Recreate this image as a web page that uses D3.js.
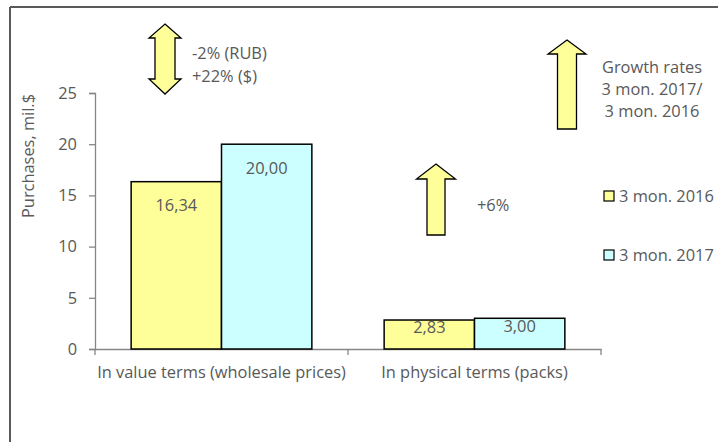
<!DOCTYPE html>
<html>
<head>
<meta charset="utf-8">
<script src="https://cdn.jsdelivr.net/npm/d3@7"></script>
<style>
  html, body { margin: 0; padding: 0; background: #fff; }
  text { font-family: "Open Sans", sans-serif; fill: #595959; }
</style>
</head>
<body>
<svg id="chart" width="718" height="442"></svg>
<script>
// data
var categories = ["In value terms (wholesale prices)", "In physical terms (packs)"];
var seriesNames = ["3 mon. 2016", "3 mon. 2017"];
var values2016 = [16.34, 2.83];
var values2017 = [20.00, 3.00];
var yTicks = [0, 5, 10, 15, 20, 25];
var colors = ["#FFFF99", "#CCFFFF"];

var svg = d3.select("#chart");
var fontSize = 16.4;
var fontFam = "'Open Sans', sans-serif";

// outer frame (only left and top edges visible)
svg.append("line").attr("x1", 10).attr("y1", 7).attr("x2", 10).attr("y2", 442)
  .attr("stroke", "#595959").attr("stroke-width", 2);
svg.append("line").attr("x1", 10).attr("y1", 7).attr("x2", 718).attr("y2", 7)
  .attr("stroke", "#595959").attr("stroke-width", 2);

var plot = { left: 95, right: 601, top: 93, bottom: 349 };

var x = d3.scaleBand().domain(categories).range([plot.left, plot.right]);
var xInner = d3.scaleBand().domain(seriesNames)
  .range([0, x.bandwidth()]).paddingOuter(0.4).paddingInner(0);
var y = d3.scaleLinear().domain([0, 25]).range([plot.bottom, plot.top]);

// y axis
var yAxis = svg.append("g").attr("transform", "translate(" + plot.left + ",0)")
  .call(d3.axisLeft(y).tickValues(yTicks).tickSize(6).tickPadding(12));
yAxis.select(".domain").attr("stroke", "#868686").attr("stroke-width", 1.3);
yAxis.selectAll(".tick line").attr("stroke", "#868686").attr("stroke-width", 1.3);
yAxis.selectAll(".tick text").style("font-size", fontSize + "px")
  .style("font-family", fontFam).attr("fill", "#595959");

// x axis
var xAxis = svg.append("g").attr("transform", "translate(0," + plot.bottom + ")")
  .call(d3.axisBottom(x).tickSize(0).tickPadding(17));
xAxis.select(".domain").attr("stroke", "#868686").attr("stroke-width", 1.3);
xAxis.selectAll(".tick text").style("font-size", fontSize + "px")
  .style("font-family", fontFam).attr("fill", "#595959");
// boundary tick marks between categories
var edges = [plot.left].concat(categories.map(function (c) { return x(c) + x.bandwidth(); }));
xAxis.selectAll(".edge").data(edges).enter().append("line")
  .attr("x1", function (d) { return d; }).attr("x2", function (d) { return d; })
  .attr("y1", 0).attr("y2", 6)
  .attr("stroke", "#868686").attr("stroke-width", 1.3);

// bars
var rows = categories.map(function (c, i) {
  return { cat: c, vals: [values2016[i], values2017[i]] };
});
var groups = svg.selectAll(".grp").data(rows).enter().append("g")
  .attr("transform", function (d) { return "translate(" + x(d.cat) + ",0)"; });

var bars = groups.selectAll("rect").data(function (d) {
  return d.vals.map(function (v, j) { return { s: seriesNames[j], v: v, j: j }; });
}).enter();

bars.append("rect")
  .attr("x", function (d) { return xInner(d.s); })
  .attr("y", function (d) { return y(d.v); })
  .attr("width", xInner.bandwidth())
  .attr("height", function (d) { return y(0) - y(d.v); })
  .attr("fill", function (d) { return colors[d.j]; })
  .attr("stroke", "#000").attr("stroke-width", 1.5);

bars.append("text")
  .attr("x", function (d) { return xInner(d.s) + xInner.bandwidth() / 2; })
  .attr("y", function (d) { var h = y(0) - y(d.v); return y(d.v) + Math.min(24, h / 4); })
  .attr("dy", "0.35em")
  .attr("text-anchor", "middle")
  .style("font-size", fontSize + "px")
  .text(function (d) { return d3.format(".2f")(d.v).replace(".", ","); });

// y axis title
svg.append("text")
  .attr("transform", "translate(28,156) rotate(-90)")
  .attr("text-anchor", "middle").attr("dy", "0.35em")
  .style("font-size", fontSize + "px")
  .text("Purchases, mil.$");

// legend
var legend = svg.selectAll(".leg").data(seriesNames).enter().append("g")
  .attr("transform", function (d, i) { return "translate(604," + (196 + i * 59) + ")"; });
legend.append("rect").attr("x", 0).attr("y", -5).attr("width", 10).attr("height", 10)
  .attr("fill", function (d, i) { return colors[i]; })
  .attr("stroke", "#000").attr("stroke-width", 1.2);
legend.append("text").attr("x", 15).attr("dy", "0.35em")
  .style("font-size", fontSize + "px").text(function (d) { return d; });

// block arrows
function upArrow(cx, top, headBase, bottom, headW, shaftW) {
  return "M" + cx + "," + top +
    "L" + (cx + headW / 2) + "," + headBase +
    "L" + (cx + shaftW / 2) + "," + headBase +
    "L" + (cx + shaftW / 2) + "," + bottom +
    "L" + (cx - shaftW / 2) + "," + bottom +
    "L" + (cx - shaftW / 2) + "," + headBase +
    "L" + (cx - headW / 2) + "," + headBase + "Z";
}
function dblArrow(cx, top, headTop, headBot, bottom, headW, shaftW) {
  return "M" + cx + "," + top +
    "L" + (cx + headW / 2) + "," + headTop +
    "L" + (cx + shaftW / 2) + "," + headTop +
    "L" + (cx + shaftW / 2) + "," + headBot +
    "L" + (cx + headW / 2) + "," + headBot +
    "L" + cx + "," + bottom +
    "L" + (cx - headW / 2) + "," + headBot +
    "L" + (cx - shaftW / 2) + "," + headBot +
    "L" + (cx - shaftW / 2) + "," + headTop +
    "L" + (cx - headW / 2) + "," + headTop + "Z";
}
var arrowStyle = function (p) {
  p.attr("fill", "#FFFF99").attr("stroke", "#000").attr("stroke-width", 1.3)
    .attr("stroke-linejoin", "miter");
};
svg.append("path").attr("d", dblArrow(165, 24, 38, 79, 94, 32, 20)).call(arrowStyle);
svg.append("path").attr("d", upArrow(567, 40, 54, 129, 38, 19)).call(arrowStyle);
svg.append("path").attr("d", upArrow(436, 164, 179, 235, 39, 18)).call(arrowStyle);

// annotations
function lines(xp, y0, step, arr, anchor) {
  arr.forEach(function (t, i) {
    svg.append("text").attr("x", xp).attr("y", y0 + i * step).attr("dy", "0.35em")
      .attr("text-anchor", anchor).style("font-size", fontSize + "px").text(t);
  });
}
lines(192, 53, 23, ["-2% (RUB)", "+22% ($)"], "start");
lines(652, 67, 22, ["Growth rates", "3 mon. 2017/", "3 mon. 2016"], "middle");
lines(477, 205, 0, ["+6%"], "start");
</script>
</body>
</html>
